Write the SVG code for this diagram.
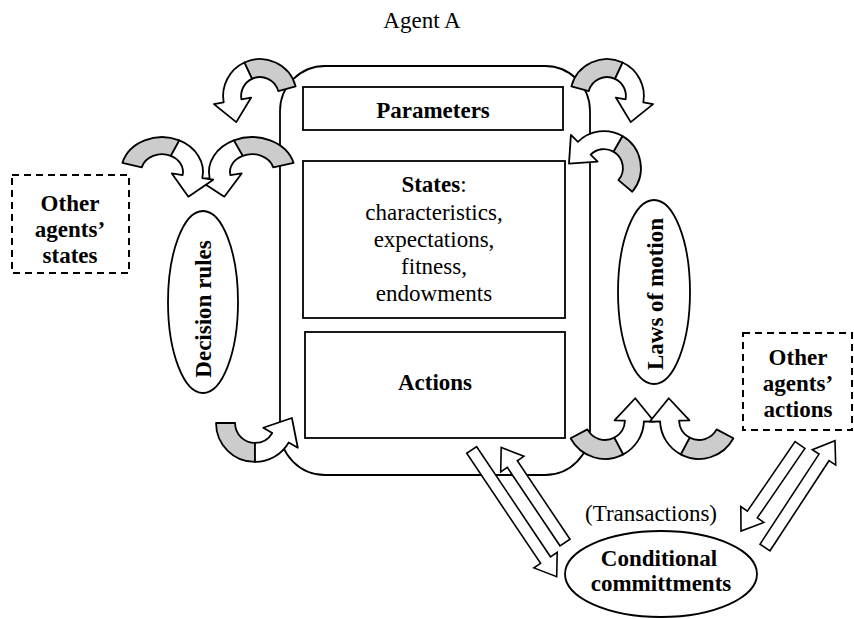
<svg xmlns="http://www.w3.org/2000/svg" xmlns:xlink="http://www.w3.org/1999/xlink" width="854" height="619" viewBox="0 0 854 619">
<style>
  .box { fill: #ffffff; stroke: #000000; stroke-width: 1.8; }
  .dash { fill: #ffffff; stroke: #000000; stroke-width: 2; stroke-dasharray: 7 5; }
  .gray { fill: #cccccc; stroke: #000000; stroke-width: 1.8; stroke-linejoin: round; vector-effect: non-scaling-stroke; }
  .white { fill: #ffffff; stroke: #000000; stroke-width: 1.8; stroke-linejoin: round; vector-effect: non-scaling-stroke; }
  .blk { fill: #ffffff; stroke: #000000; stroke-width: 1.6; stroke-linejoin: miter; }
  .t { font-family: "Liberation Serif", "Times New Roman", serif; font-size: 23px; fill: #000000; text-anchor: middle; }
  .b { font-weight: bold; }
</style>
<defs>
  <g id="curvA">
    <path class="gray" d="M39.60,-10.61 A41,41 0 0 0 -17.33,-37.16 L-8.87,-19.03 A21,21 0 0 1 20.28,-5.43 Z"/>
    <path class="white" d="M-17.33,-37.16 A41,41 0 0 0 -40.38,7.12 L-51.21,9.03 L-26.36,29.02 L-9.85,1.74 L-20.68,3.65 A21,21 0 0 1 -8.87,-19.03 Z"/>
  </g>
  <g id="curvB">
    <path class="gray" d="M39.60,-10.61 A41,41 0 0 0 -10.61,-39.60 L-5.43,-20.28 A21,21 0 0 1 20.28,-5.43 Z"/>
    <path class="white" d="M-10.61,-39.60 A41,41 0 0 0 -39.60,-10.61 L-50.23,-13.46 L-36.15,15.16 L-9.66,-2.59 L-20.28,-5.43 A21,21 0 0 1 -5.43,-20.28 Z"/>
  </g>
</defs>

<text class="t" x="422" y="28">Agent A</text>

<g id="agent-box">
  <rect class="box" x="280" y="66" width="310" height="409" rx="45" ry="45"/>
</g>

<g id="parameters">
  <rect class="box" x="303" y="87" width="260" height="43"/>
  <text class="t b" x="433" y="118">Parameters</text>
</g>

<g id="states">
  <rect class="box" x="303" y="161" width="262" height="157"/>
  <text class="t" x="434" y="192"><tspan class="b">States</tspan>:</text>
  <text class="t" x="434" y="220">characteristics,</text>
  <text class="t" x="434" y="247">expectations,</text>
  <text class="t" x="434" y="274">fitness,</text>
  <text class="t" x="434" y="301">endowments</text>
</g>

<g id="actions">
  <rect class="box" x="305" y="332" width="260" height="106"/>
  <text class="t b" x="435" y="390">Actions</text>
</g>

<g id="decision-rules">
  <ellipse class="box" cx="203" cy="302" rx="35" ry="91"/>
  <text class="t b" transform="translate(211,309) rotate(-90)" x="0" y="0">Decision rules</text>
</g>

<g id="laws-of-motion">
  <ellipse class="box" cx="654" cy="292" rx="36" ry="92"/>
  <text class="t b" transform="translate(663,294) rotate(-90)" x="0" y="0">Laws of motion</text>
</g>

<g id="other-states">
  <rect class="dash" x="12" y="175" width="117" height="98"/>
  <text class="t b" x="70" y="211">Other</text>
  <text class="t b" x="70" y="237">agents’</text>
  <text class="t b" x="70" y="263">states</text>
</g>

<g id="other-actions">
  <rect class="dash" x="743" y="333" width="109" height="97"/>
  <text class="t b" x="798" y="365">Other</text>
  <text class="t b" x="798" y="391">agents’</text>
  <text class="t b" x="798" y="417">actions</text>
</g>

<g id="conditional">
  <ellipse class="box" cx="661" cy="574" rx="96" ry="43"/>
  <text class="t b" x="659" y="566">Conditional</text>
  <text class="t b" x="661" y="591">committments</text>
</g>

<text class="t" x="651" y="521">(Transactions)</text>

<g id="connectors">
  <use xlink:href="#curvA" transform="translate(260,96) scale(0.9)"/>
  <use xlink:href="#curvA" transform="translate(252,172) scale(1.05,0.85)"/>
  <use xlink:href="#curvA" transform="translate(162,172) scale(-1,0.85)"/>
  <use xlink:href="#curvB" transform="translate(255,423) rotate(195) scale(0.95)"/>
  <use xlink:href="#curvA" transform="translate(607,96) scale(-0.9,0.9)"/>
  <use xlink:href="#curvA" transform="translate(604,168) rotate(55) scale(0.9)"/>
  <use xlink:href="#curvB" transform="translate(605,420) rotate(167) scale(0.95)"/>
  <use xlink:href="#curvB" transform="translate(699,420) scale(-1,1) rotate(167) scale(0.95)"/>

  <polygon class="blk" points="476.7,446.7 550.5,556.8 557.2,552.3 556.7,576.7 533.9,567.9 540.6,563.4 466.7,453.3"/>
  <polygon class="blk" points="570,539.2 517.3,460.8 523.9,456.3 501.2,447.5 500.7,471.9 507.3,467.4 560,545.8"/>
  <polygon class="blk" points="804.95,448.4 757.3,517.9 763.9,522.4 741,531 740.8,506.6 747.4,511.1 795.05,441.6"/>
  <polygon class="blk" points="770,550.8 829,460.7 835.7,465.1 835,440.7 812.3,449.7 819,454.1 760,544.2"/>
</g>
</svg>
